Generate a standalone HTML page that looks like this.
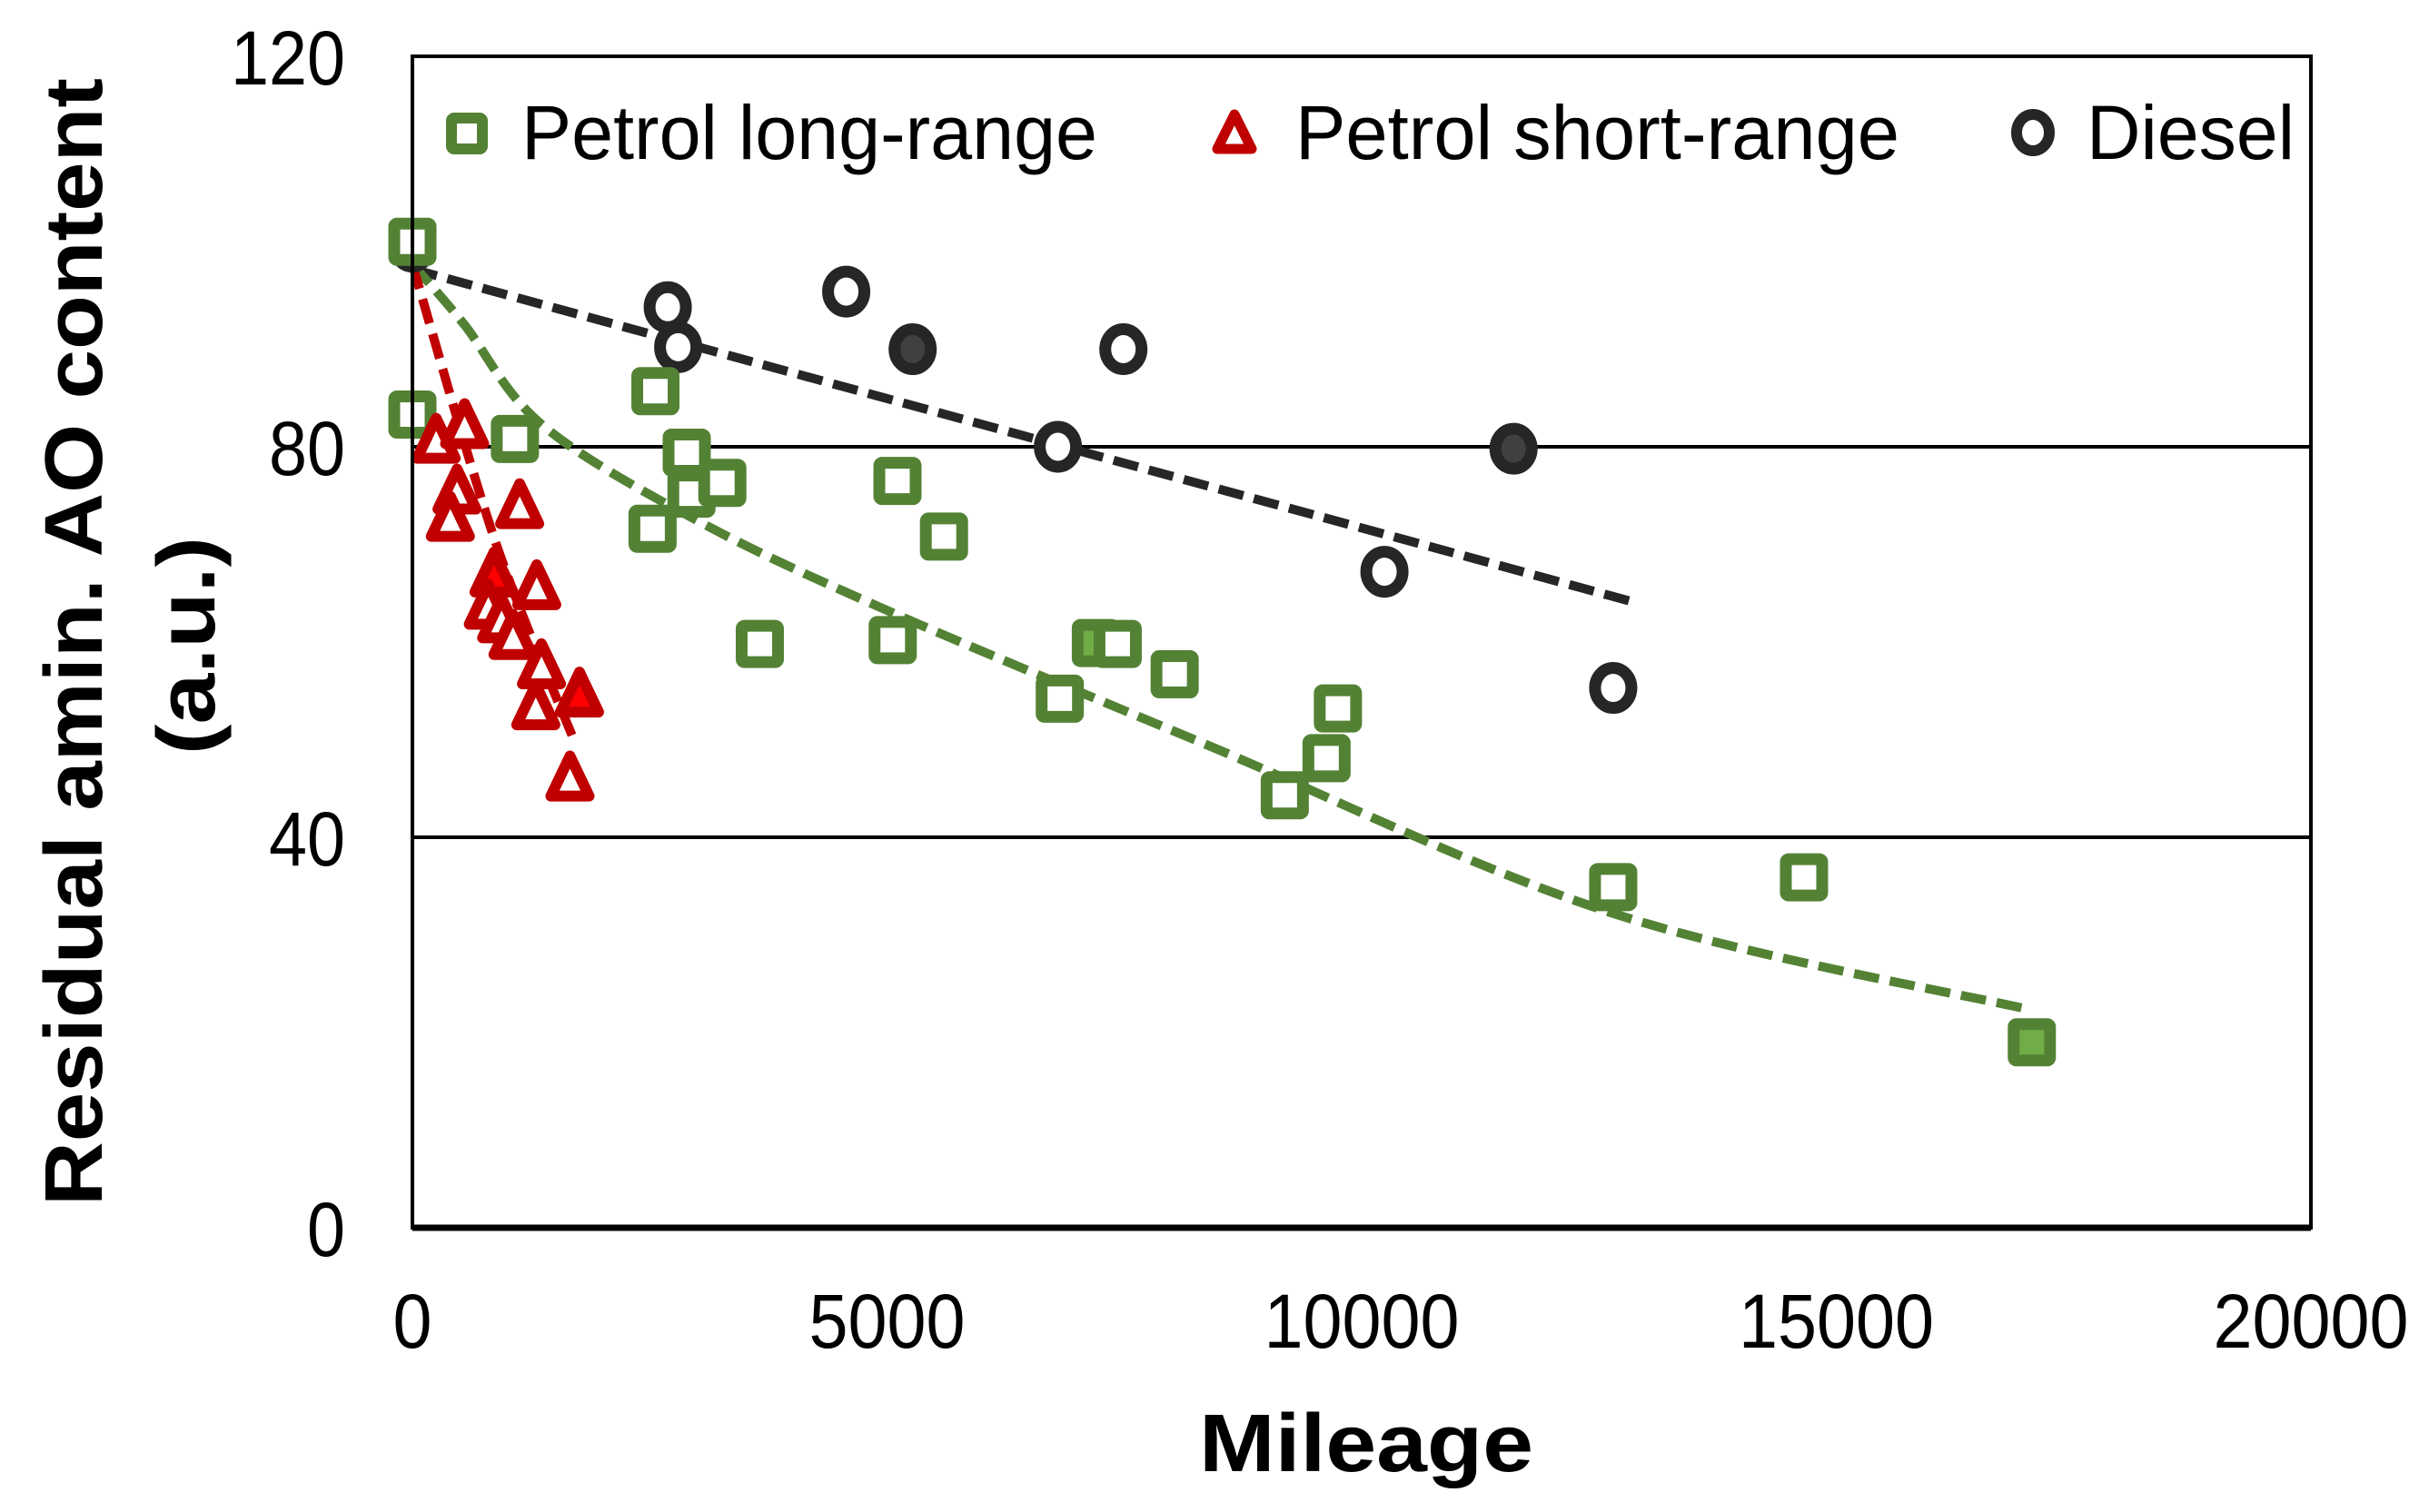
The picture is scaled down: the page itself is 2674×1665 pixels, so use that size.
<!DOCTYPE html>
<html><head><meta charset="utf-8"><style>
html,body{margin:0;padding:0;background:#fff;}
svg{display:block;}
text{font-family:"Liberation Sans",Arial,sans-serif;}
</style></head><body>
<svg id="chart" width="2674" height="1665" viewBox="0 0 2674 1665" xmlns="http://www.w3.org/2000/svg">
<g id="grid"></g>
<g id="trends"></g>
<g id="marks"></g>
<g id="axes"></g>
<g id="legend">
  <rect x="497" y="130" width="34" height="34" rx="3" fill="#fff" stroke="#548235" stroke-width="12"/>
  <text x="574" y="175" font-size="84" textLength="634" lengthAdjust="spacingAndGlyphs">Petrol long-range</text>
  <polygon points="1359,126 1378,164 1340,164" fill="#fff" stroke="#C00000" stroke-width="11" stroke-linejoin="round"/>
  <text x="1426" y="175" font-size="84" textLength="665" lengthAdjust="spacingAndGlyphs">Petrol short-range</text>
  <ellipse cx="2238" cy="146" rx="18" ry="20" fill="#fff" stroke="#262626" stroke-width="12"/>
  <text x="2297" y="175" font-size="84" textLength="229" lengthAdjust="spacingAndGlyphs">Diesel</text>
</g>
<text x="1504" y="1620" font-size="90" font-weight="bold" text-anchor="middle" textLength="368" lengthAdjust="spacingAndGlyphs">Mileage</text>
<text transform="translate(112,707) rotate(-90)" font-size="90" font-weight="bold" text-anchor="middle" textLength="1242" lengthAdjust="spacingAndGlyphs">Residual amin. AO content</text>
<text transform="translate(236,711) rotate(-90)" font-size="90" font-weight="bold" text-anchor="middle" textLength="240" lengthAdjust="spacingAndGlyphs">(a.u.)</text>
</svg>
<script>
const xTicks=[0,5000,10000,15000,20000];
const yTicks=[0,40,80,120];
const longX=[0,0,1080,2560,2530,2890,2940,3265,3660,5060,5110,5600,6820,7200,7430,8030,9190,9630,9750,12650,14660,17060];
const longY=[101,83.3,80.8,85.7,71.6,79.4,75.2,76.3,59.8,60.2,76.5,70.8,54.2,59.9,59.8,56.7,44.3,48.1,53.2,34.9,35.9,19.0];
const longFilled=[0,0,0,0,0,0,0,0,0,0,0,0,0,1,0,0,0,0,0,0,0,1];
const shortX=[250,550,470,400,1130,860,800,1310,940,1060,1360,1300,1760,1660];
const shortY=[80.5,82,75.3,72.5,73.8,66.8,63.5,65.5,62.1,60.4,57.4,53.2,54.5,45.9];
const shortFilled=[0,0,0,0,0,1,0,0,0,0,0,0,1,0];
const dieselX=[0,2690,2800,4570,5270,7490,6800,11600,10240,12650];
const dieselY=[100.5,94.3,90.2,95.9,90.0,90.0,80.0,79.8,67.2,55.3];
const dieselFilled=[0,0,0,0,1,0,0,1,0,0];
const trendLongX=[0,540,1360,2990,5010,8410,12650,17060];
const trendLongY=[98.7,92.6,82.3,72.5,63.2,49.3,32.2,22.3];
const trendShortX=[0,870,1700];
const trendShortY=[98.7,70.4,50];
const trendDieselX=[0,12900];
const trendDieselY=[98.2,64];

const X0=454,X1=2544,Y0=1352,Y1=62;
const sx=v=>X0+(v-xTicks[0])/(xTicks[xTicks.length-1]-xTicks[0])*(X1-X0);
const sy=v=>Y0-(v-yTicks[0])/(yTicks[yTicks.length-1]-yTicks[0])*(Y0-Y1);
const NS="http://www.w3.org/2000/svg";
function mk(tag,parent,attrs){const e=document.createElementNS(NS,tag);for(const k in attrs)e.setAttribute(k,attrs[k]);parent.appendChild(e);return e;}
const grid=document.getElementById('grid'),axes=document.getElementById('axes'),trends=document.getElementById('trends'),marks=document.getElementById('marks');

yTicks.forEach(t=>{
  if(t>yTicks[0]&&t<yTicks[yTicks.length-1]){
    const l=mk('line',grid,{x1:X0,x2:X1,y1:sy(t),y2:sy(t),stroke:'#000','stroke-width':4});
    
    
  }
  const tx=mk('text',axes,{x:380,y:sy(t)+31,'font-size':84,'text-anchor':'end',textLength:String(t).length*42,lengthAdjust:'spacingAndGlyphs'});
  tx.textContent=t;
  
  
});
xTicks.forEach(t=>{
  const tx=mk('text',axes,{x:sx(t),y:1484,'font-size':84,'text-anchor':'middle',textLength:String(t).length*43,lengthAdjust:'spacingAndGlyphs'});
  tx.textContent=t;
  
  
});
const frame=mk('rect',axes,{x:X0,y:Y1,width:X1-X0,height:Y0-Y1,fill:'none',stroke:'#000','stroke-width':4});


const xa=mk('line',axes,{x1:X0,x2:X1,y1:Y0,y2:Y0,stroke:'#000','stroke-width':7});



function smoothPath(xs,ys){
  const P=xs.map((x,i)=>[sx(x),sy(ys[i])]);
  let d='M'+P[0][0]+','+P[0][1];
  for(let i=0;i<P.length-1;i++){
    const p0=P[Math.max(i-1,0)],p1=P[i],p2=P[i+1],p3=P[Math.min(i+2,P.length-1)];
    const c1=[p1[0]+(p2[0]-p0[0])/6,p1[1]+(p2[1]-p0[1])/6];
    const c2=[p2[0]-(p3[0]-p1[0])/6,p2[1]-(p3[1]-p1[1])/6];
    d+=` C${c1[0]},${c1[1]} ${c2[0]},${c2[1]} ${p2[0]},${p2[1]}`;
  }
  return d;
}
function trend(xs,ys,color,name){
  const p=mk('path',trends,{d:smoothPath(xs,ys),fill:'none',stroke:color,'stroke-width':10,'stroke-dasharray':'28 12'});
  
  
}
trend(trendDieselX,trendDieselY,'#262626','trendline-diesel');
trend(trendLongX,trendLongY,'#548235','trendline-petrol-long');
trend(trendShortX,trendShortY,'#C00000','trendline-petrol-short');

dieselX.forEach((x,i)=>{
  const c=mk('ellipse',marks,{cx:sx(x),cy:sy(dieselY[i]),rx:20,ry:22,fill:dieselFilled[i]?'#404040':'#fff',stroke:'#262626','stroke-width':13});
  
  
});
longX.forEach((x,i)=>{
  const r=mk('rect',marks,{x:sx(x)-20,y:sy(longY[i])-20,width:40,height:40,rx:3,fill:longFilled[i]?'#70AD47':'#fff',stroke:'#548235','stroke-width':13});
  
  
});
shortX.forEach((x,i)=>{
  const cx=sx(x),cy=sy(shortY[i]);
  const t=mk('polygon',marks,{points:`${cx},${cy-26} ${cx+21},${cy+18} ${cx-21},${cy+18}`,fill:shortFilled[i]?'#FF0000':'#fff',stroke:'#C00000','stroke-width':12,'stroke-linejoin':'round'});
  
  
});
</script>
</body></html>
